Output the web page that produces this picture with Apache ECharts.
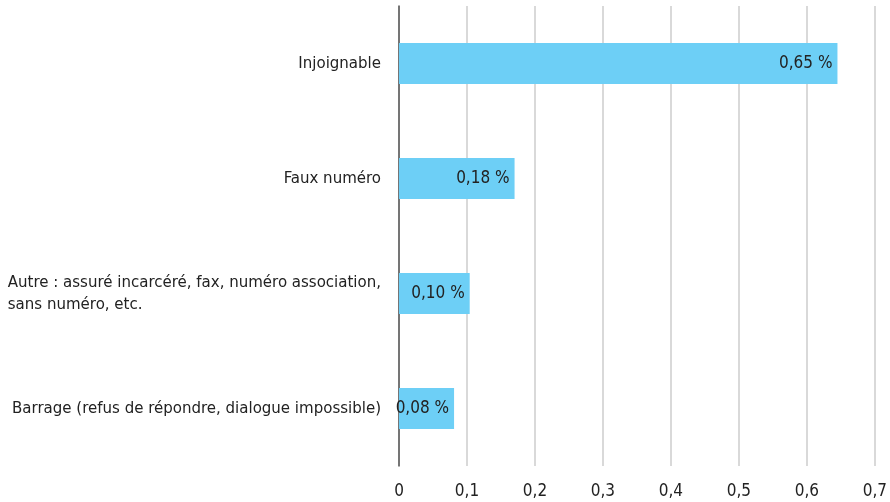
<!DOCTYPE html>
<html>
<head>
<meta charset="utf-8">
<script src="https://cdn.jsdelivr.net/npm/echarts@6/dist/echarts.min.js"></script>
<style>
  html, body { margin: 0; padding: 0; background: #fff; }
  #chart { width: 890px; height: 502px; }
</style>
</head>
<body>
<div id="chart"></div>
<script>
// categories, top to bottom
const categories = [
  'Injoignable',
  'Faux numéro',
  'Autre : assuré incarcéré, fax, numéro association,\nsans numéro, etc.',
  'Barrage (refus de répondre, dialogue impossible)'
];
// bar lengths
const values = [0.645, 0.17, 0.104, 0.081];
// printed labels
const valueLabels = ['0,65 %', '0,18 %', '0,10 %', '0,08 %'];

const font = "'Liberation Sans Narrow', 'DejaVu Sans Condensed', 'Roboto', sans-serif";

let chart = echarts.init(document.getElementById('chart'));
chart.setOption({
  animation: false,
  grid: { left: 399, right: 15, top: 6, bottom: 36 },
  xAxis: {
    type: 'value',
    min: 0,
    max: 0.7,
    interval: 0.1,
    axisLine: { show: false },
    axisTick: { show: false },
    splitLine: { lineStyle: { color: '#cccccc', width: 1.5 } },
    axisLabel: {
      margin: 17,
      fontSize: 17,
      color: '#222',
      fontFamily: font,
      formatter: v => String(Math.round(v * 10) / 10).replace('.', ',')
    }
  },
  yAxis: {
    type: 'category',
    data: categories,
    inverse: true,
    axisLine: { lineStyle: { color: '#555', width: 1.5 } },
    axisTick: { show: false },
    axisLabel: {
      margin: 18,
      color: '#222',
      // each line left aligned inside the block
      formatter: v => v.split('\n').map(s => '{l|' + s + '}').join('\n'),
      rich: {
        l: {
          align: 'left',
          fontSize: 16.7,
          lineHeight: 22,
          color: '#222',
          fontFamily: font
        }
      }
    }
  },
  series: [{
    type: 'bar',
    data: values,
    barWidth: 41,
    itemStyle: { color: '#6dcff6' },
    label: {
      show: true,
      position: 'insideRight',
      distance: 5,
      fontSize: 17,
      color: '#222',
      fontFamily: font,
      formatter: p => valueLabels[p.dataIndex]
    }
  }]
});
window.addEventListener('resize', chart.resize);
</script>
</body>
</html>
